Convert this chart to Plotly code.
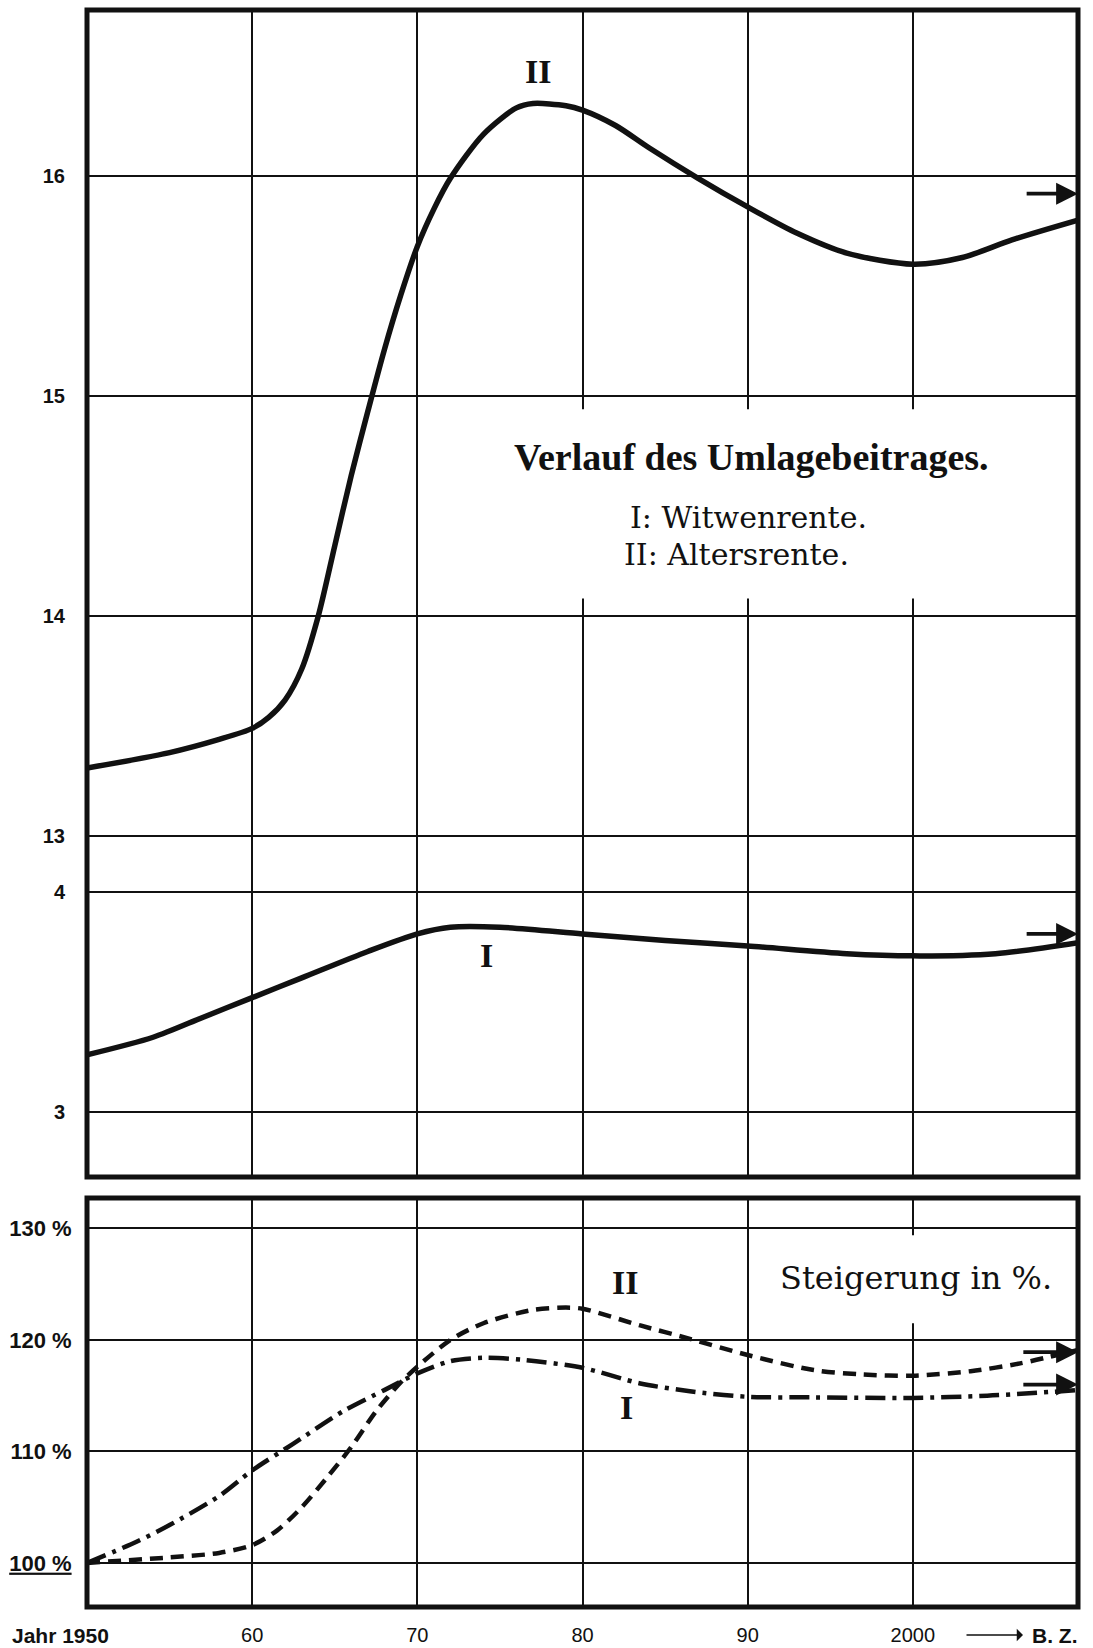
import plotly.graph_objects as go

# ---------------- data ----------------
# Upper panel, curve II (Altersrente), contribution level
ii_years = [1950, 1955, 1958, 1960, 1961, 1962, 1963, 1964, 1965, 1966, 1967, 1968, 1969,
            1970, 1971, 1972, 1974, 1976, 1977, 1979, 1980, 1982, 1984, 1987, 1990, 1993, 1996,
            2000, 2003, 2006, 2010]
ii_vals = [13.31, 13.38, 13.44, 13.49, 13.54, 13.62, 13.76, 14.00, 14.32, 14.64, 14.93, 15.21, 15.46,
           15.68, 15.85, 15.99, 16.19, 16.31, 16.33, 16.32, 16.30, 16.23, 16.13, 15.99, 15.86, 15.74, 15.65,
           15.60, 15.63, 15.71, 15.80]

# Upper panel, curve I (Witwenrente)
i_years = [1950, 1954, 1957, 1960, 1963, 1967, 1970, 1972, 1975, 1980, 1985, 1990, 1996, 2000, 2005, 2010]
i_vals = [3.26, 3.34, 3.43, 3.52, 3.61, 3.73, 3.81, 3.84, 3.84, 3.81, 3.78, 3.755, 3.72, 3.71, 3.72, 3.77]

# Lower panel, increase in percent
pii_years = [1950, 1955, 1958, 1960, 1961.5, 1963, 1964.5, 1966, 1967.5, 1969, 1970, 1972, 1974,
             1977, 1979, 1980, 1983.5, 1986.5, 1990, 1994, 1997, 2000, 2003.5, 2006.5, 2010]
pii_vals = [100.0, 100.5, 100.9, 101.6, 102.9, 105.0, 107.6, 110.4, 113.6, 116.2, 117.6, 120.0, 121.5,
            122.7, 122.9, 122.8, 121.3, 120.1, 118.65, 117.3, 116.9, 116.8, 117.2, 117.9, 119.1]

pi_years = [1950, 1953, 1955, 1958, 1960, 1962.5, 1965.5, 1968, 1970, 1972, 1974, 1976.5, 1980,
            1983.5, 1986.5, 1990, 1994, 2000, 2004.5, 2010]
pi_vals = [100.0, 101.9, 103.4, 106.0, 108.3, 110.7, 113.6, 115.5, 117.0, 118.1, 118.4, 118.2, 117.5,
           116.1, 115.4, 114.9, 114.85, 114.8, 115.0, 115.5]

# asymptotic (final) values marked with arrows at the right edge
final_ii = 15.92
final_i = 3.81
final_pii = 118.9
final_pi = 116.0

x_tickvals = [1960, 1970, 1980, 1990, 2000]
x_ticktext = ["60", "70", "80", "90", "2000"]
top_tickvals = [13, 14, 15, 16]
top_ticktext = ["13", "14", "15", "16"]
mid_tickvals = [3, 4]
mid_ticktext = ["3", "4"]
pct_tickvals = [100, 110, 120, 130]
pct_ticktext = ["<u>100 %</u>", "110 %", "120 %", "130 %"]

# ---------------- figure ----------------
SANS = "Liberation Sans"
SERIF = "Liberation Serif"
SERIF2 = "DejaVu Serif"
BLACK = "#111111"

W_FIG, H_FIG = 1093, 1648
M_L, M_R, M_T, M_B = 87, 15, 10, 41
PW = W_FIG - M_L - M_R
PH = H_FIG - M_T - M_B
BOTTOM = H_FIG - M_B


def px(x):
    return (x - M_L) / PW


def py(y):
    return (BOTTOM - y) / PH


fig = go.Figure()

fig.add_trace(go.Scatter(x=ii_years, y=ii_vals, xaxis="x3", yaxis="y3", mode="lines",
                         line=dict(color=BLACK, width=5.5, shape="spline", smoothing=0.8),
                         hoverinfo="skip", showlegend=False))
fig.add_trace(go.Scatter(x=i_years, y=i_vals, xaxis="x2", yaxis="y2", mode="lines",
                         line=dict(color=BLACK, width=5.5, shape="spline", smoothing=0.8),
                         hoverinfo="skip", showlegend=False))
fig.add_trace(go.Scatter(x=pii_years, y=pii_vals, xaxis="x", yaxis="y", mode="lines",
                         line=dict(color=BLACK, width=4.5, dash="13px,8px", shape="spline", smoothing=0.8),
                         hoverinfo="skip", showlegend=False))
fig.add_trace(go.Scatter(x=pi_years, y=pi_vals, xaxis="x", yaxis="y", mode="lines",
                         line=dict(color=BLACK, width=4.5, dash="20px,7px,4px,7px", shape="spline", smoothing=0.8),
                         hoverinfo="skip", showlegend=False))

grid = dict(showgrid=True, gridcolor=BLACK, gridwidth=1.5, zeroline=False, showline=False,
            automargin=False)
xcommon = dict(range=[1950, 2010], tickvals=x_tickvals, ticktext=x_ticktext, **grid)

fig.update_layout(
    width=W_FIG, height=H_FIG,
    margin=dict(l=M_L, r=M_R, t=M_T, b=M_B, autoexpand=False),
    paper_bgcolor="white", plot_bgcolor="white",
    xaxis=dict(anchor="y", ticks="outside", ticklen=10, tickcolor="rgba(0,0,0,0)",
               tickfont=dict(family=SANS, size=20, color=BLACK), **xcommon),
    xaxis2=dict(anchor="y2", showticklabels=False, **xcommon),
    xaxis3=dict(anchor="y3", showticklabels=False, **xcommon),
    yaxis=dict(domain=[0, 0.2561], range=[96.05, 132.73], tickvals=pct_tickvals, ticktext=pct_ticktext,
               ticks="outside", ticklen=10, tickcolor="rgba(0,0,0,0)",
               tickfont=dict(family=SANS, size=22, color=BLACK, weight="bold"), **grid),
    yaxis2=dict(domain=[0.2693, 0.4646], range=[2.705, 4.123], tickvals=mid_tickvals, ticktext=mid_ticktext,
                ticks="outside", ticklen=17, tickcolor="rgba(0,0,0,0)",
                tickfont=dict(family=SANS, size=20, color=BLACK, weight="bold"), **grid),
    yaxis3=dict(domain=[0.4646, 1.0], range=[12.869, 16.755], tickvals=top_tickvals, ticktext=top_ticktext,
                ticks="outside", ticklen=17, tickcolor="rgba(0,0,0,0)",
                tickfont=dict(family=SANS, size=20, color=BLACK, weight="bold"), **grid),
)

# white areas behind the captions (they interrupt the grid)
fig.add_shape(type="rect", xref="x3", yref="y3", x0=1974, x1=2006, y0=14.08, y1=14.94,
              fillcolor="white", line=dict(width=0), layer="between")
fig.add_shape(type="rect", xref="x", yref="y", x0=1991.5, x1=2009.5, y0=121.5, y1=129.4,
              fillcolor="white", line=dict(width=0), layer="between")

# heavy frames
fig.add_shape(type="rect", xref="paper", yref="paper", x0=0, x1=1, y0=0.2693, y1=1.0,
              line=dict(color=BLACK, width=5), fillcolor="rgba(0,0,0,0)", layer="above")
fig.add_shape(type="rect", xref="paper", yref="paper", x0=0, x1=1, y0=0, y1=0.2561,
              line=dict(color=BLACK, width=5), fillcolor="rgba(0,0,0,0)", layer="above")

# captions
fig.add_annotation(xref="paper", yref="paper", x=px(751), y=py(457),
                   text="<b>Verlauf des Umlagebeitrages.</b>", showarrow=False,
                   font=dict(family=SERIF, size=38, color=BLACK), xanchor="center", yanchor="middle")
fig.add_annotation(xref="paper", yref="paper", x=px(628), y=py(517),
                   text="I: Witwenrente.", showarrow=False,
                   font=dict(family=SERIF2, size=30, color=BLACK), xanchor="left", yanchor="middle")
fig.add_annotation(xref="paper", yref="paper", x=px(622), y=py(555),
                   text="II: Altersrente.", showarrow=False,
                   font=dict(family=SERIF2, size=30, color=BLACK), xanchor="left", yanchor="middle")
fig.add_annotation(xref="paper", yref="paper", x=px(916), y=py(1278),
                   text="Steigerung in %.", showarrow=False,
                   font=dict(family=SERIF2, size=32, color=BLACK), xanchor="center", yanchor="middle")

# curve labels
for xx, yy, t in [(538, 72, "II"), (486, 955, "I"), (625, 1282, "II"), (626, 1407, "I")]:
    fig.add_annotation(xref="paper", yref="paper", x=px(xx), y=py(yy),
                       text="<b>" + t + "</b>", showarrow=False,
                       font=dict(family=SERIF, size=34, color=BLACK), xanchor="center", yanchor="middle")

# arrows at the right edge (limit values)
for xr, yr, yv, x_tail in [("x3", "y3", final_ii, 2006.8), ("x2", "y2", final_i, 2006.8),
                           ("x", "y", final_pii, 2006.6), ("x", "y", final_pi, 2006.6)]:
    fig.add_annotation(xref=xr, yref=yr, axref=xr, ayref=yr, x=2010, y=yv, ax=x_tail, ay=yv,
                       text="", showarrow=True, arrowhead=2, arrowsize=1.15, arrowwidth=3.8,
                       arrowcolor=BLACK)

# x-axis extras
fig.add_annotation(xref="paper", yref="paper", x=px(111), y=py(1635),
                   text="<b>Jahr 1950</b>", showarrow=False, xanchor="right", yanchor="middle",
                   font=dict(family=SANS, size=21, color=BLACK))
fig.add_annotation(xref="paper", yref="paper", x=px(1023), y=py(1635),
                   ax=-58, ay=0, text="", showarrow=True, arrowhead=1, arrowsize=1.3, arrowwidth=1.6,
                   arrowcolor=BLACK)
fig.add_annotation(xref="paper", yref="paper", x=px(1030), y=py(1635),
                   text="<b>B. Z.</b>", showarrow=False, xanchor="left", yanchor="middle",
                   font=dict(family=SANS, size=21, color=BLACK))

fig.write_html(
    "out.html",
    config={"displayModeBar": False},
    post_script=("document.documentElement.style.margin='0';"
                 "document.documentElement.style.padding='0';"
                 "document.documentElement.style.overflow='hidden';"
                 "document.body.style.margin='0';"
                 "document.body.style.padding='0';"
                 "document.body.style.overflow='hidden';"),
)
